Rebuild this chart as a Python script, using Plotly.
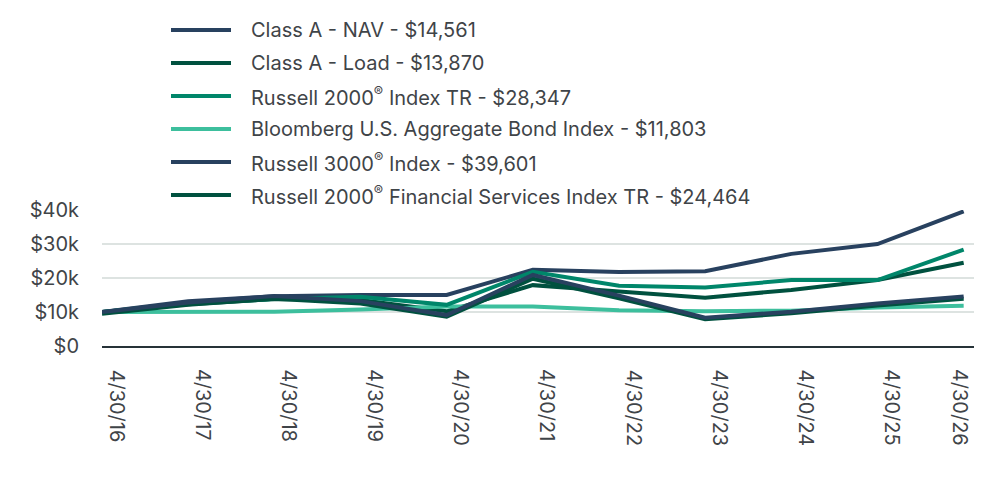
import plotly.graph_objects as go

dates = ["4/30/16", "4/30/17", "4/30/18", "4/30/19", "4/30/20", "4/30/21",
         "4/30/22", "4/30/23", "4/30/24", "4/30/25", "4/30/26"]

class_a_nav = [10000, 12800, 14700, 13200, 9100, 20900, 14800, 8300, 10100, 12500, 14561]
class_a_load = [9450, 12100, 13900, 12500, 8600, 19800, 14000, 7900, 9600, 11900, 13870]
russell_2000 = [10000, 12500, 13800, 14500, 12100, 21800, 17700, 17200, 19400, 19400, 28347]
bloomberg_agg = [10000, 10050, 10100, 10700, 11600, 11600, 10500, 10200, 10400, 11300, 11803]
russell_3000 = [10000, 13200, 14600, 15000, 15000, 22400, 21800, 22000, 27100, 30000, 39601]
r2000_fin = [10000, 12300, 13800, 13500, 10200, 17900, 16000, 14200, 16500, 19400, 24464]

names = [
    "Class A - NAV - $14,561",
    "Class A - Load - $13,870",
    "Russell 2000<sup>®</sup> Index TR - $28,347",
    "Bloomberg U.S. Aggregate Bond Index - $11,803",
    "Russell 3000<sup>®</sup> Index - $39,601",
    "Russell 2000<sup>®</sup> Financial Services Index TR - $24,464",
]
series = [class_a_nav, class_a_load, russell_2000, bloomberg_agg, russell_3000, r2000_fin]
colors = ["#28415f", "#00513f", "#00866a", "#3dbf9d", "#28415f", "#00513f"]

y_ticks = [0, 10000, 20000, 30000, 40000]
y_labels = ["$0", "$10k", "$20k", "$30k", "$40k"]

FONT = "Inter"
TEXT_COLOR = "#3f4448"
W, H = 984, 480
ML, MR, MT, MB = 102, 10, 210, 134
PW, PH = W - ML - MR, H - MT - MB

def px_x(p):
    return (p - ML) / PW

def px_y(p):
    return (H - MB - p) / PH

fig = go.Figure()
xs = list(range(len(dates)))
for i in reversed(range(len(series))):
    fig.add_trace(go.Scatter(
        x=xs, y=series[i], name=names[i], mode="lines",
        line=dict(color=colors[i], width=4),
        showlegend=False,
    ))

# custom legend (long line samples like the reference)
shapes = []
annotations = []
first_row, row_gap = 30, 33
for i, (nm, c) in enumerate(zip(names, colors)):
    yy = px_y(first_row + i * row_gap)
    shapes.append(dict(type="line", xref="paper", yref="paper",
                       x0=px_x(171), x1=px_x(231), y0=yy, y1=yy,
                       line=dict(color=c, width=4)))
    annotations.append(dict(xref="paper", yref="paper", x=px_x(249), y=yy,
                            xanchor="left", yanchor="middle", text=nm,
                            showarrow=False,
                            font=dict(family=FONT, size=20, color=TEXT_COLOR)))

# x tick labels (rotated), placed as in the reference
for i, d in enumerate(dates):
    shift = 15 if i < len(dates) - 1 else -3
    annotations.append(dict(xref="x", yref="y", x=xs[i], y=0, text=d,
                            textangle=90, xanchor="center", yanchor="top",
                            xshift=shift, yshift=-21, showarrow=False,
                            font=dict(family=FONT, size=20, color=TEXT_COLOR)))

fig.update_layout(
    width=W, height=H,
    margin=dict(l=ML, r=MR, t=MT, b=MB),
    plot_bgcolor="white", paper_bgcolor="white",
    font=dict(family=FONT, color=TEXT_COLOR),
    showlegend=False,
    shapes=shapes,
    annotations=annotations,
    xaxis=dict(
        tickvals=xs, showticklabels=False,
        range=[0, 10.12],
        showgrid=False, zeroline=False,
        showline=True, linecolor="#263238", linewidth=2,
        ticks="",
    ),
    yaxis=dict(
        range=[0, 40000], tickvals=y_ticks, ticktext=y_labels,
        gridcolor="#dde3e1", gridwidth=2, zeroline=False,
        tickfont=dict(family=FONT, size=20, color=TEXT_COLOR),
        ticks="", ticklabelstandoff=22,
    ),
)

fig.write_html("out.html")
